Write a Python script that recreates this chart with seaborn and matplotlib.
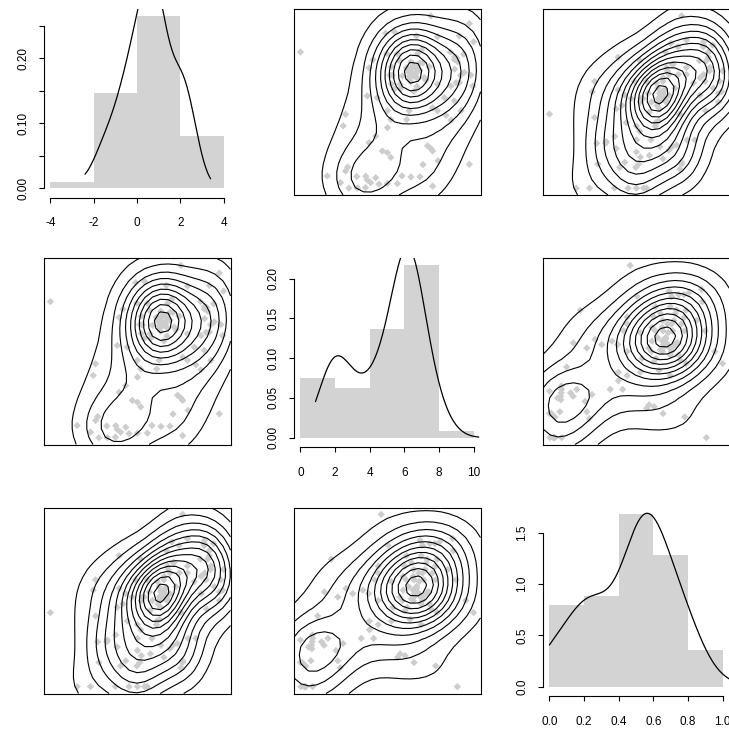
import numpy as np
import matplotlib
matplotlib.use("Agg")
import matplotlib.pyplot as plt
import seaborn as sns

# ---- observations: three variables measured on the same 113 units ----
x1 = [-3.07, 1.26, -0.24, 0.06, 0.78, 1.48, 2.21, 2.54, 2.68, 0.15,
      0.21, 0.82, 0.96, 1.91, 2.04, -0.79, -0.66, 0.48, 0.79, 1.21,
      2.37, 2.59, 0.32, 0.54, 0.71, 1.04, 0.59, 1.48, 1.93, 2.21,
      2.65, 0.04, 0.24, -0.52, -0.85, 1.71, 2.04, -1.57, -1.65, -0.18,
      -0.07, 0.46, 0.54, 1.32, 1.48, 1.76, 1.93, 2.26, -0.18, -0.57,
      -0.79, -0.35, -0.18, -0.07, 1.15, 1.26, 1.32, 2.54, -2.18, -1.57,
      -0.85, -0.74, -0.46, -0.57, -1.74, -1.46, -1.18, -0.91, -0.18, 0.15,
      1.32,
      -1.20, 0.30, 0.90, -0.90, 0.60, -1.50, 1.00, 1.50,
      -0.10, -0.20, -0.05, -0.02, 0.55, 0.60, 0.55, 0.60, 0.70, 0.75,
      0.70, 0.75, 0.80, 0.90, 0.50, 0.65, 0.85, 0.45, -0.05, 0.80,
      1.00, 1.10, 1.20, 2.05, 2.12, 0.60, 0.90, 2.05, 2.15, 2.25,
      2.10, 2.35, 0.25, 0.70]

x2 = [6.99, 8.45, 7.75, 7.80, 7.64, 7.61, 7.64, 8.14, 7.41, 6.92,
      6.65, 6.92, 7.09, 6.99, 6.69, 6.35, 6.68, 6.27, 6.33, 6.40,
      6.17, 6.06, 6.03, 6.16, 6.03, 5.96, 5.79, 5.69, 5.62, 5.76,
      5.62, 5.49, 5.69, 5.15, 5.22, 5.15, 5.02, 4.48, 4.01, 4.62,
      4.27, 4.27, 4.62, 4.74, 4.62, 4.44, 4.24, 4.62, 3.94, 3.60,
      3.33, 3.00, 2.93, 2.74, 3.21, 3.10, 3.00, 2.46, 1.99, 2.19,
      1.83, 1.72, 1.66, 1.92, 1.72, 1.50, 1.50, 1.52, 1.68, 1.68,
      1.58,
      1.97, 1.99, 1.96, 1.98, 1.95, 2.35, 2.45, 2.60,
      6.06, 6.93, 6.40, 6.05, 5.90, 6.20, 6.02, 6.30, 6.03, 6.15,
      6.45, 6.08, 5.95, 6.25, 6.35, 6.40, 6.50, 6.35, 5.70, 5.60,
      6.55, 5.85, 6.40, 6.80, 6.75, 6.60, 6.55, 6.30, 6.60, 6.05,
      5.75, 6.90, 5.50, 5.40]

x3 = [0.43, 0.43, 0.62, 0.00, 0.79, 0.86, 0.79, 0.50, 0.68, 0.62,
      0.55, 0.70, 0.84, 0.74, 0.83, 0.76, 0.48, 0.61, 0.52, 0.66,
      0.58, 0.62, 0.50, 0.58, 0.64, 0.72, 0.46, 0.70, 0.64, 0.76,
      0.56, 0.52, 0.44, 0.38, 0.46, 0.61, 0.82, 0.62, 0.56, 0.36,
      0.33, 0.38, 0.50, 1.00, 0.66, 0.28, 0.54, 0.70, 0.28, 0.54,
      0.57, 0.52, 0.21, 0.74, 0.25, 0.11, 0.15, 0.55, 0.00, 0.41,
      0.23, 0.12, 0.00, 0.15, 0.00, 0.14, 0.27, 0.00, 0.00, 0.00,
      0.14,
      0.26, 0.28, 0.22, 0.30, 0.24, 0.26, 0.24, 0.28,
      0.14, 0.12, 0.50, 0.52, 0.39, 0.55, 0.52, 0.53, 0.56, 0.57,
      0.62, 0.54, 0.51, 0.66, 0.48, 0.52, 0.68, 0.36, 0.18, 0.50,
      0.72, 0.58, 0.82, 0.66, 0.45, 0.55, 0.54, 0.85, 0.74, 0.68,
      0.62, 0.83, 0.19, 0.17]

# histogram breaks and axis annotation for the diagonal panels
hist_edges = [[-4, -2, 0, 2, 4],
              [0, 2, 4, 6, 8, 10],
              [0.0, 0.2, 0.4, 0.6, 0.8, 1.0]]
x_tick_labels = [["-4", "-2", "0", "2", "4"],
                 ["0", "2", "4", "6", "8", "10"],
                 ["0.0", "0.2", "0.4", "0.6", "0.8", "1.0"]]
y_ticks = [[0.00, 0.05, 0.10, 0.15, 0.20, 0.25],
           [0.00, 0.05, 0.10, 0.15, 0.20],
           [0.0, 0.5, 1.0, 1.5]]
y_tick_labels = [["0.00", "", "0.10", "", "0.20", ""],
                 ["0.00", "0.05", "0.10", "0.15", "0.20"],
                 ["0.0", "0.5", "1.0", "1.5"]]
# x-extent over which each density curve is traced
curve_span = [(-2.4, 3.4), (0.87, 10.3), (0.0, 1.2)]
# number of iso-density lines in each pairwise panel
contour_count = {(0, 1): 10, (0, 2): 13, (1, 2): 11}

variables = [np.asarray(v, dtype=float) for v in (x1, x2, x3)]

sns.set_style("white")
plt.rcParams['font.family'] = ['Liberation Sans', 'DejaVu Sans']
plt.rcParams['font.size'] = 8.5

FIG = 729
fig = plt.figure(figsize=(FIG / 100, FIG / 100), dpi=100)
fig.patch.set_facecolor("white")

col_left = [43.5, 293.5, 542.5]
row_top = [9.0, 258.5, 507.5]
PW, PH = 187.0, 186.0

POINT_COLOR = "#CDCDCD"
BAR_COLOR = "#D3D3D3"
SMOOTH_2D = 1.35
SMOOTH_1D = 1.25


def panel_axes(i, j):
    left = col_left[j] / FIG
    bottom = 1 - (row_top[i] + PH) / FIG
    return fig.add_axes([left, bottom, PW / FIG, PH / FIG])


def padded(lo, hi, frac=0.04):
    d = (hi - lo) * frac
    return lo - d, hi + d


def bw_nrd(v):
    q75, q25 = np.percentile(v, [75, 25])
    return 4 * 1.06 * min(np.std(v, ddof=1), (q75 - q25) / 1.34) * len(v) ** (-0.2)


def bw_nrd0_factor(v):
    q75, q25 = np.percentile(v, [75, 25])
    sd = np.std(v, ddof=1)
    bw = 0.9 * min(sd, (q75 - q25) / 1.34) * len(v) ** (-0.2)
    return SMOOTH_1D * bw / sd


def kde2d(x, y, xr, yr, n=25):
    hx, hy = SMOOTH_2D * bw_nrd(x) / 4, SMOOTH_2D * bw_nrd(y) / 4
    gx = np.linspace(xr[0], xr[1], n)
    gy = np.linspace(yr[0], yr[1], n)
    phi = lambda u: np.exp(-0.5 * u * u) / np.sqrt(2 * np.pi)
    ax_ = phi((gx[:, None] - x[None, :]) / hx)
    ay_ = phi((gy[:, None] - y[None, :]) / hy)
    z = ax_ @ ay_.T / (len(x) * hx * hy)
    return gx, gy, z


for i in range(3):
    for j in range(3):
        ax = panel_axes(i, j)
        ax.set_facecolor("white")
        if i == j:
            v = variables[i]
            edges = hist_edges[i]
            sns.histplot(x=v, bins=edges, stat="density", color=BAR_COLOR,
                         alpha=1, edgecolor="none", linewidth=0, ax=ax)
            hmax = max(p.get_height() for p in ax.patches)
            sns.kdeplot(x=v, bw_method=bw_nrd0_factor(v), cut=3,
                        clip=curve_span[i], color="black", linewidth=0.9, ax=ax)
            ax.set_xlim(padded(edges[0], edges[-1]))
            ax.set_ylim(padded(0, hmax))
            ax.set_xlabel("")
            ax.set_ylabel("")
            ax.set_xticks(edges)
            ax.set_xticklabels(x_tick_labels[i])
            ax.set_yticks(y_ticks[i])
            ax.set_yticklabels(y_tick_labels[i], rotation=90, va="center")
            for side in ("top", "right"):
                ax.spines[side].set_visible(False)
            ax.spines["left"].set_bounds(y_ticks[i][0], y_ticks[i][-1])
            ax.spines["bottom"].set_bounds(edges[0], edges[-1])
            ax.spines["bottom"].set_position(("outward", 2))
            for side in ("left", "bottom"):
                ax.spines[side].set_color("black")
                ax.spines[side].set_linewidth(0.8)
            ax.tick_params(axis="both", direction="out", length=3.6, width=0.8,
                           color="black", labelcolor="black",
                           left=True, bottom=True, labelsize=8.5)
            ax.tick_params(axis="x", pad=10.5)
            ax.tick_params(axis="y", pad=6.5)
        else:
            a, b = min(i, j), max(i, j)
            xv, yv = variables[a], variables[b]
            xr = padded(xv.min(), xv.max())
            yr = padded(yv.min(), yv.max())
            sns.scatterplot(x=xv, y=yv, ax=ax, marker="D", s=14, color=POINT_COLOR,
                            edgecolor="none", linewidth=0, zorder=1)
            gx, gy, z = kde2d(xv, yv, xr, yr)
            n_lines = contour_count[(a, b)]
            levels = z.max() * np.arange(1, n_lines + 1) / (n_lines + 0.6)
            ax.contour(gx, gy, z.T, levels=levels, colors="black",
                       linewidths=0.8, zorder=2)
            ax.set_xlim(xr)
            ax.set_ylim(yr)
            ax.set_xticks([])
            ax.set_yticks([])
            ax.set_xlabel("")
            ax.set_ylabel("")
            for sp in ax.spines.values():
                sp.set_visible(True)
                sp.set_color("black")
                sp.set_linewidth(0.8)

fig.savefig("out.png", dpi=100, facecolor="white")
